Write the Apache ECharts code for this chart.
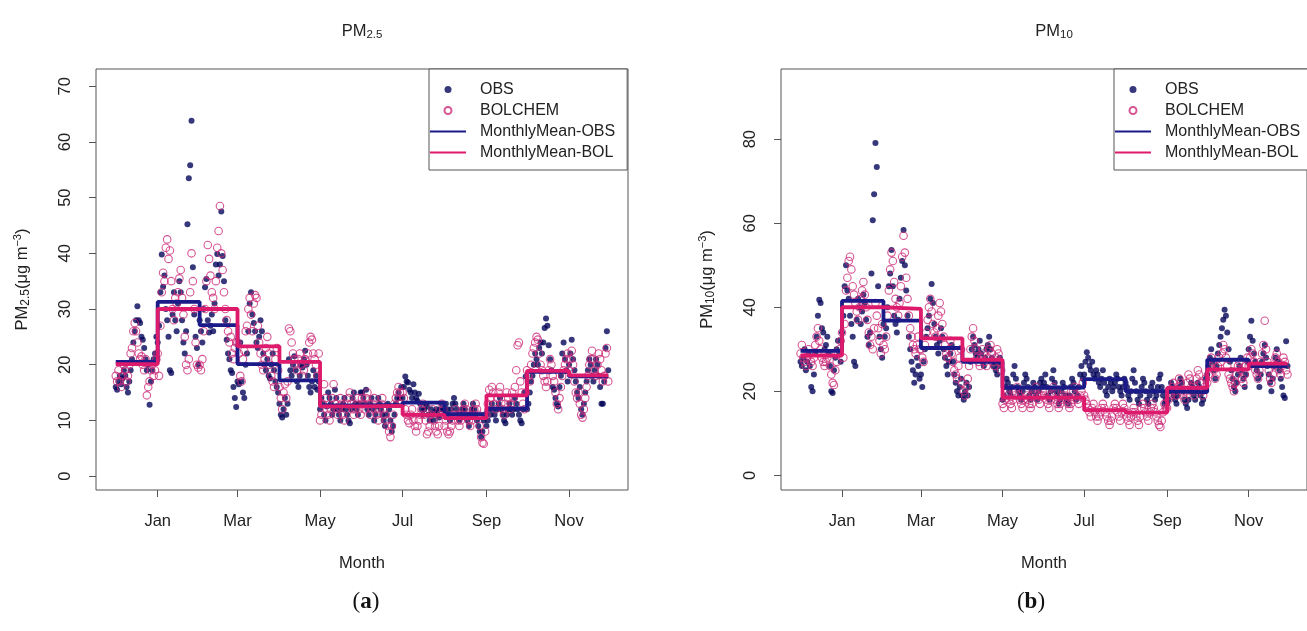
<!DOCTYPE html>
<html>
<head>
<meta charset="utf-8">
<title>PM2.5 / PM10 OBS vs BOLCHEM</title>
<script src="https://cdn.jsdelivr.net/npm/echarts@6/dist/echarts.min.js"></script>
<style>
html, body { margin: 0; padding: 0; background: #fff; }
#chart { width: 1307px; height: 631px; }
</style>
</head>
<body>
<div id="chart"></div>
<script>
// x is the day number counted from 1 Jan; the record runs 1 Dec .. 30 Nov
var monthStart = [-31, 0, 31, 59, 90, 120, 151, 181, 212, 243, 273, 304];
var lastDay = 333;
var tickDays = [0, 59, 120, 181, 243, 304];
var tickNames = ['Jan', 'Mar', 'May', 'Jul', 'Sep', 'Nov'];
var pm25Ticks = [0, 10, 20, 30, 40, 50, 60, 70];
var pm10Ticks = [0, 20, 40, 60, 80];

// monthly means, Dec .. Nov
var meanObs25 = [20.5, 31.3, 27.1, 20.1, 17.2, 12.7, 12.8, 13.2, 11.1, 12.1, 18.7, 17.9];
var meanBol25 = [20.1, 30.0, 30.0, 23.3, 20.5, 12.5, 12.6, 11.0, 10.4, 14.5, 18.9, 18.1];
var meanObs10 = [29.6, 41.5, 36.8, 30.3, 27.0, 20.9, 20.9, 22.9, 20.0, 19.8, 27.5, 26.0];
var meanBol10 = [28.5, 40.0, 39.6, 32.6, 27.5, 18.5, 18.5, 15.5, 14.9, 20.8, 25.2, 26.6];

// daily values, one row per month (Dec .. Nov)
var obs25 = [
  [16,15.5,17,18,16.5,17.5,19,18,16,15,17,19,21,24,26,28,30.5,28,27.5,25,24.5,23,21,19,20,12.8,17,19,21,22,25],
  [24,27,33,39.8,34,36,30,28,25,19,18.5,29,33,28,26,31,35,33,28,24,22,26,45.2,53.5,55.8,63.8,37.5,29,25,23,20],
  [28,26,24,30,33.9,35.4,28,25.8,27,29,26,31,38,39.9,36,38,47.5,39.5,35,28,24.5,22,21,19,18.5,16,14,12.4],
  [17,16.5,24,17,15,14,20,22,26,31,33,29,27.5,26,24,23,25,28,26,22,20,19,21,18,17.5,20,22,19,17,16,15],
  [13,11,10.5,12,14,11,13,21,19,18,20,21.5,19,17,16,18,20,19.5,21,22.5,20,18,16,15,17,19,16,18,15.5,17],
  [12,14,13,11,10,12.5,15,14,13,11,12,15.5,14,12,11,10,12,13,14,12,11,10,9.5,12,14,15,13,12,11,13,15],
  [15,14,13,15.5,12,11,13,14,12,10,11,12.5,14,13,12,11,10,9,11,13,12,10,8,9,11,13,14,15,14,16],
  [14,16,17.9,17,16.8,15.5,15,14,16.5,15,14,13.5,14.8,13,12,11,12,13,12.5,11,10,12,11,10,11.5,12,11,10.5,12,13,12],
  [12,13,12,11,10,12,13,14,13,12,11,10,11,12,13,12,11,10,9,11,12,13,12,11,10,9,8,7,8,10,11],
  [9,10,12,11,13,12,11,10,12,13,14,12,11,10,9.5,11,12,13,12,11,12,14,13,12,11,10,9.5,12,15,17.9],
  [12,13,15,17,18,20,22,21,20,23,24,22,24,26.6,28.3,27,23.5,21,19,16,15.5,14,13,12.5,16,18,22,24,21,19,17],
  [20,22,24.5,21,19,17,15,14,16,12,11,13,15,17,19,21,20,18,17,19,21,20,18,16,13,13,17,23,26,19]
];
var bol25 = [
  [18,17,19,17,16,18,20,19,17,18,20,22,23,26,27.5,26,24,22,21,21.5,20,19,21,14.5,16,17,19,20,18,19,21],
  [22,18,27,33,36.5,35,41,42.5,39,40.5,35,30,28,32,31,33,35.5,37,32,29,25,20,19,21,33,40,35,30,24,20,19.5],
  [20,19,21,26,30,35,41.5,39,36,33,32,30,35,41,44,48.5,40,37,33,30,28,26,24,25,22,21,23,24],
  [24,22,18,17,21,22.5,26,27,30,32,29,26,31,32.5,32,27,24,22,20,19,21,23,25,22,20,18,17,16,21,23,19],
  [16,14,12,15,16.5,14,17,26.5,26,24,22,21,20,19,21,22,20,18,19,21,20.5,22,24,25,24.5,22,21,20,18,22],
  [10,11,13,16.5,14,12,11,10,12,14,16.5,13,12,11,12.5,14,13,11,10,12,13,14,15,13,12,11,12,13,14,12,11],
  [14,13,12,14,15,13,11,12,13,14,12,11,10,12,13,14,12,11,10,9,8,7,9,11,13,14,15,16,15,13],
  [15,14,12,11,10,9.5,11,12,10,9,8,9,10,11,12,13,11,10,7.5,8,9,11,12,10,9,8,7.5,9,11,13,12],
  [9,10,8,7.5,8,9,10,11,12,11,10,9,10,11,12,13,12,11,10,9,10,11,12,13,12,11,9,7,6,5.8,8],
  [11,13,15.5,14,16,15,13,12,14,15,16,13,12,11,13,15,14,12,13,15,14,16,19,23.5,24,17,15,13,12,15],
  [19,18,17,20,22,23,24,25,24.5,22,20,19,18,17,16,17,19,21,20,18,17,15,13,12,14,16,18,19,20,21,22],
  [19,21,22.5,20,17,15,14,15,13,11,10.5,12,14,16,18,20,21,22.5,21,19,18,20,22,21,19,17,18,22,23,17]
];
var obs10 = [
  [27,26,28,30,25,27,29,26,21,20,24,29,33,38,41.8,41,35,34,30,31,33,29,26,20,19.6,25,28,30,32,29,27],
  [34,38,45,50,44,42,38,36,33,27,26,37,42,40,36,39,43,41,37,33,31,34,48,60.7,66.9,79.1,73.4,45,33,30,28],
  [36,33,35,40,45,48,53.6,45,38,36,34,37,42,47,51,58.4,50,44,38,33,30,27,25,22,24,28,26,23],
  [24,21,27,30,33,35,38,42,45.5,41,36,33,31,29,32,35,33,30,28,26,24,27,29,31,27,24,22,20,19,21,23],
  [19,18,20,22,19,21,27,30,33,31,29,28,30,32,29,27,26,28,30,31,33,30,28,26,27,25,24,26,28,27],
  [18,19,21,23,22,20,19,21,24,26,23,21,20,19,18,20,22,24,23,21,19,18,20,22,21,19,18,20,22,23,21],
  [22,24,21,19,18,20,23,25,22,20,19,17,18,20,22,21,19,18,17,19,21,23,22,20,18,19,21,24,26,23],
  [24,27,29.3,28,26,25,27,24,23,25,24,22,21,23,25,22,20,19,21,23,22,20,21,22,24,23,21,20,19,21,23],
  [22,21,19,18,20,23,25,22,20,18,17,19,21,23,22,20,18,17,19,21,22,20,18,19,21,23,24,21,19,17,18],
  [17,18,20,22,21,19,18,17,19,21,23,22,20,18,17,16,18,20,22,21,19,18,20,22,21,19,17,18,20,23],
  [24,26,28,30,27,25,23,26,29,31,33,35,37,39.4,38,34,30,27,25,23,21,20,22,24,26,28,25,23,21,24,27],
  [30,33,36.8,32,29,27,25,23,21,24,27,29,31,28,26,24,22,20,23,26,28,30,27,25,23,21,19,18.4,31.9,26]
];
var bol10 = [
  [29,31,28,27,26,28,30,29,27,26,28,31,33,35,32,30,28,27,26,27,28,29,26,24,22,21.5,25,27,29,30,32],
  [34,28,36,44,47,51,52,49,45,43,41,39,37,40,42,44,46,43,40,37,34,31,33,30,35,41,38,35,32,29,36],
  [31,30,33,38,44,49,53,51,46,42,40,38,41,45,52,57,53,47,42,38,35,33,31,30,29,31,33,30],
  [30,28,27,31,34,37,40,42,39,36,34,33,35,38,41,39,36,33,31,29,28,30,32,29,27,25,24,23,26,28,30],
  [22,20,19,21,23,26,30,33,35,32,30,28,27,26,28,30,29,27,26,28,30,31,29,27,26,28,30,29,27,25],
  [17,16,18,20,19,18,17,16,18,19,20,21,19,18,17,16,18,20,19,18,17,16,17,19,20,21,19,18,17,19,20],
  [19,20,18,17,16,18,19,21,20,18,17,16,17,18,19,20,19,18,17,16,17,18,20,21,19,18,17,19,20,22],
  [19,18,17,16,15,14,16,17,15,14,13,14,15,16,17,16,15,14,13,12,13,14,16,17,16,15,14,13,15,17,16],
  [15,14,13,12,14,15,16,15,14,13,12,14,16,17,16,15,14,13,15,16,17,16,15,14,13,12,11.5,13,15,17,16],
  [16,18,20,19,21,22,20,19,21,23,22,20,19,18,20,22,24,23,21,20,19,21,23,25,24,22,20,19,21,23],
  [22,24,26,28,27,25,23,24,26,28,27,29,31,30,28,26,24,23,22,21,20,22,24,26,27,25,23,22,24,26,28],
  [26,28,30,29,27,25,24,23,25,27,29,31,36.8,30,27,25,23,22,24,26,28,29,27,25,24,26,28,27,25,24]
];

var NAVY = '#05055a';
var NAVY_LINE = '#1a1a88';
var PINK = '#cc2a78';
var PINK_LINE = '#dd1a6c';
var FRAME = '#555';
var INK = '#222';
var FONT = '"Liberation Sans", Arial, sans-serif';
var SERIF = '"Liberation Serif", "DejaVu Serif", serif';

// R pads the data range by 4% on every side
var xMin = -31 - 14.6, xMax = 333 + 14.6;

function daily(rows) {
  var out = [];
  rows.forEach(function (row, m) {
    row.forEach(function (v, i) { out.push([monthStart[m] + i, v]); });
  });
  return out;
}

function steps(means) {
  var out = [];
  means.forEach(function (v, m) {
    var a = monthStart[m], b = m < means.length - 1 ? monthStart[m + 1] : lastDay;
    out.push([a, v], [b, v]);
  });
  return out;
}

function panelSeries(idx, obs, bol, mObs, mBol) {
  return [
    { name: 'OBS', type: 'scatter', xAxisIndex: idx, yAxisIndex: idx,
      symbol: 'circle', symbolSize: 6, itemStyle: { color: NAVY },
      data: daily(obs), z: 2, silent: true },
    { name: 'BOLCHEM', type: 'scatter', xAxisIndex: idx, yAxisIndex: idx,
      symbol: 'circle', symbolSize: 7.5,
      itemStyle: { color: 'rgba(0,0,0,0)', borderColor: PINK, borderWidth: 1.1 },
      data: daily(bol), z: 3, silent: true },
    { name: 'MonthlyMean-OBS', type: 'line', xAxisIndex: idx, yAxisIndex: idx,
      showSymbol: false, symbol: 'none', color: NAVY_LINE,
      lineStyle: { width: 3.8, color: NAVY_LINE }, itemStyle: { color: NAVY_LINE },
      data: steps(mObs), z: 4, silent: true },
    { name: 'MonthlyMean-BOL', type: 'line', xAxisIndex: idx, yAxisIndex: idx,
      showSymbol: false, symbol: 'none', color: PINK_LINE,
      lineStyle: { width: 3.8, color: PINK_LINE }, itemStyle: { color: PINK_LINE },
      data: steps(mBol), z: 5, silent: true }
  ];
}

function xAxisFor(idx) {
  return {
    gridIndex: idx, type: 'value', min: xMin, max: xMax,
    axisLine: { show: false, onZero: false },
    axisTick: { show: true, length: 7, customValues: tickDays, lineStyle: { color: FRAME } },
    axisLabel: {
      customValues: tickDays, margin: 23, fontSize: 16.5, color: INK, fontFamily: FONT,
      formatter: function (v) { return tickNames[tickDays.indexOf(v)]; }
    },
    splitLine: { show: false },
    name: 'Month', nameLocation: 'middle', nameGap: 65,
    nameTextStyle: { fontSize: 16.5, color: INK, fontFamily: FONT }
  };
}

function yAxisFor(idx, lo, hi, ticks, nameText) {
  return {
    gridIndex: idx, type: 'value', min: lo, max: hi,
    axisLine: { show: false, onZero: false },
    axisTick: { show: true, length: 7, customValues: ticks, lineStyle: { color: FRAME } },
    axisLabel: { customValues: ticks, rotate: 90, margin: 22, fontSize: 16.5, color: INK, fontFamily: FONT },
    splitLine: { show: false },
    name: nameText, nameLocation: 'middle', nameGap: 64, nameRotate: 90,
    nameTextStyle: {
      fontSize: 16.5, color: INK, fontFamily: FONT,
      rich: {
        s: { fontSize: 12, fontFamily: FONT, color: INK, verticalAlign: 'bottom', padding: [8, 0, 0, 0] },
        p: { fontSize: 11, fontFamily: FONT, color: INK, verticalAlign: 'top', padding: [0, 0, 6, 0] }
      }
    }
  };
}

function legendFor(left) {
  var lineIcon = 'path://M0,0L36,0L36,2L0,2Z';
  return {
    left: left, top: 69, orient: 'vertical',
    itemWidth: 36, itemHeight: 7, itemGap: 0,
    padding: [10, 12, 7, 1],
    borderColor: FRAME, borderWidth: 1, backgroundColor: '#fff',
    selectedMode: false,
    textStyle: { fontSize: 16, color: INK, fontFamily: FONT, lineHeight: 21, padding: [0, 0, 0, 9] },
    data: [
      { name: 'OBS', icon: 'circle' },
      { name: 'BOLCHEM', icon: 'circle' },
      { name: 'MonthlyMean-OBS', icon: lineIcon },
      { name: 'MonthlyMean-BOL', icon: lineIcon }
    ]
  };
}

function titleText(x, main, sub) {
  return {
    type: 'text', x: x, y: 31,
    style: {
      text: main + '{s|' + sub + '}', align: 'center', verticalAlign: 'middle',
      fontSize: 16.5, fill: INK, fontFamily: FONT,
      rich: { s: { fontSize: 11.5, fontFamily: FONT, fill: INK, verticalAlign: 'bottom', padding: [7, 0, 0, 0] } }
    }
  };
}

function captionText(x, letter) {
  return {
    type: 'text', x: x, y: 602,
    style: {
      text: '({b|' + letter + '})', align: 'center', verticalAlign: 'middle',
      fontSize: 23, fill: '#111', fontFamily: SERIF,
      rich: { b: { fontSize: 23, fontWeight: 'bold', fill: '#111', fontFamily: SERIF } }
    }
  };
}

var chart = echarts.init(document.getElementById('chart'), null, { renderer: 'canvas' });

chart.setOption({
  animation: false,
  backgroundColor: '#fff',
  grid: [
    { left: 96, top: 69, width: 532, height: 421, show: true, borderColor: FRAME, borderWidth: 1, backgroundColor: 'transparent' },
    { left: 781, top: 69, width: 532, height: 421, show: true, borderColor: FRAME, borderWidth: 1, backgroundColor: 'transparent' }
  ],
  xAxis: [xAxisFor(0), xAxisFor(1)],
  yAxis: [
    yAxisFor(0, -2.5, 73.1, pm25Ticks, 'PM{s|2.5}(μg m{p|−3})'),
    yAxisFor(1, -3.5, 96.7, pm10Ticks, 'PM{s|10}(μg m{p|−3})')
  ],
  legend: [legendFor(429), legendFor(1114)],
  series: panelSeries(0, obs25, bol25, meanObs25, meanBol25)
    .concat(panelSeries(1, obs10, bol10, meanObs10, meanBol10)),
  graphic: [
    titleText(362, 'PM', '2.5'),
    titleText(1054, 'PM', '10'),
    captionText(366, 'a'),
    captionText(1031, 'b')
  ]
});
</script>
</body>
</html>
